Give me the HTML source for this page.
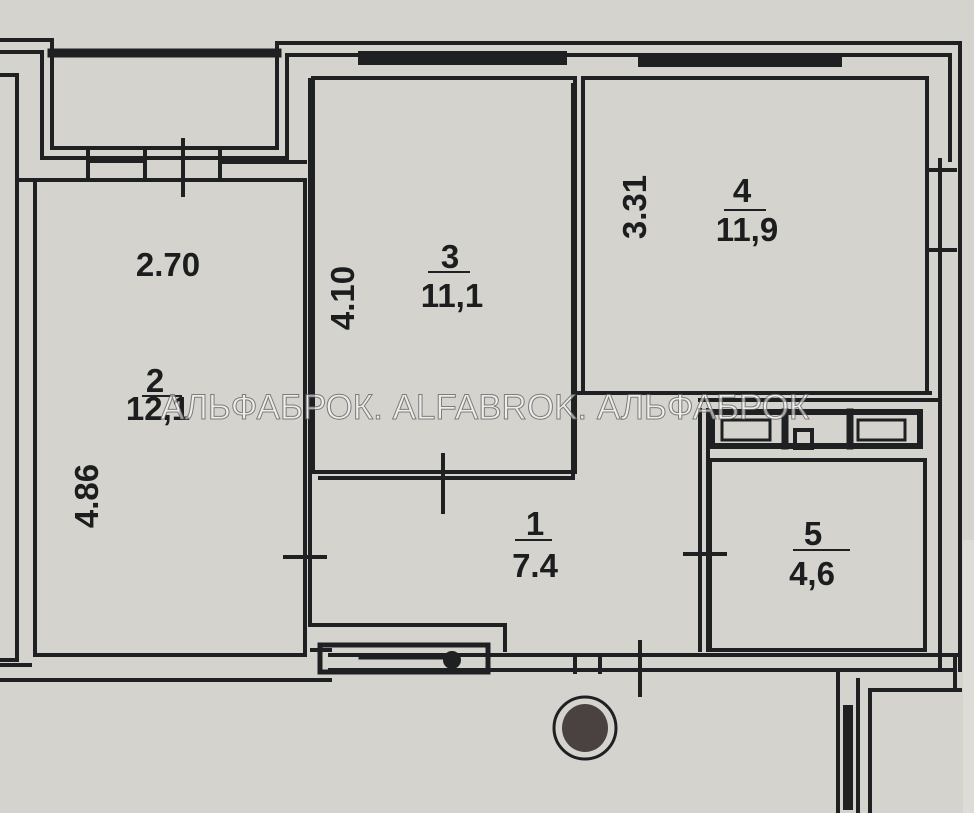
<!DOCTYPE html>
<html><head><meta charset="utf-8"><style>
html,body{margin:0;padding:0;background:#d5d3cd;}
svg{display:block}
text{font-family:"Liberation Sans",Arial,sans-serif;font-weight:bold;fill:#1c1d1f}
</style></head><body>
<svg width="974" height="813" viewBox="0 0 974 813" xmlns="http://www.w3.org/2000/svg">
<rect width="974" height="813" fill="#d5d3cd"/>
<rect x="963" y="540" width="11" height="273" fill="#dedcd7"/>
<g stroke="#1e2022" stroke-width="4" fill="none" stroke-linecap="square">
<path d="M0 40 H52 V148 H277 V43 H960 V670"/>
<path d="M0 52 H42 V158 H287 V55 H950 V160"/>
<path d="M52 53 H277" stroke-width="9"/>
<path d="M365 58 H560 M645 60 H835" stroke-width="14"/>
<path d="M0 75 H17 V660 M0 660 H17"/>
<path d="M20 180 H305 V655 H35 V180"/>
<path d="M88 152 V178 M145 152 V178 M220 152 V178 M88 161 H145" />
<path d="M183 140 V195" />
<path d="M220 162 H305"/>
<path d="M313 78 H575 V472 H313 Z"/>
<path d="M310 80 V625 H505 V650"/>
<path d="M583 78 H927 V393 H583 V80"/>
<path d="M573 85 V478 H320"/>
<path d="M575 393 H583 M600 393 H930"/>
<path d="M700 400 H940 M700 410 V650 M708 410 V650"/>
<path d="M710 460 H925 V650 H710 V460"/>
<path d="M940 160 V670 M930 170 H955 M930 250 H955"/>
<path d="M712 412 H920 V446 H712 Z" stroke-width="6"/>
<path d="M722 420 V440 H770 V420 Z M858 420 V440 H905 V420 Z" stroke-width="3"/>
<path d="M785 412 V446 M850 412 V446" stroke-width="7"/>
<path d="M795 430 H812 V448 H795 Z"/>
<path d="M0 680 H330 M330 655 H960 M330 670 H955 M312 650 H330"/>
<path d="M0 665 H30"/>
<path d="M320 645 H488 V672 H320 Z" stroke-width="5"/>
<path d="M360 658 H450" stroke-width="3"/>
<circle cx="452" cy="660" r="7" fill="#1e2022"/>
<path d="M575 655 V672 M600 655 V672"/>
<path d="M640 642 V695"/>
<path d="M838 672 V813 M858 680 V813 M870 690 V813 M870 690 H960 M955 655 V690"/>
<path d="M848 710 V805" stroke-width="10"/>
<path d="M443 455 V512 M285 557 H325 M685 554 H725"/>
<circle cx="585" cy="728" r="31" stroke-width="3"/>
</g>
<ellipse cx="585" cy="728" rx="23" ry="24" fill="#4a4240"/>
<g font-size="33">
<text x="168" y="276" text-anchor="middle">2.70</text>
<text x="155" y="392" text-anchor="middle">2</text>
<text x="158" y="420" text-anchor="middle">12,1</text>
<text transform="translate(98,496) rotate(-90)" text-anchor="middle">4.86</text>
<text transform="translate(354,298) rotate(-90)" text-anchor="middle">4.10</text>
<text x="450" y="268" text-anchor="middle">3</text>
<text x="452" y="307" text-anchor="middle">11,1</text>
<text transform="translate(646,207) rotate(-90)" text-anchor="middle">3.31</text>
<text x="742" y="202" text-anchor="middle">4</text>
<text x="747" y="241" text-anchor="middle">11,9</text>
<text x="535" y="535" text-anchor="middle">1</text>
<text x="535" y="577" text-anchor="middle">7.4</text>
<text x="813" y="545" text-anchor="middle">5</text>
<text x="812" y="585" text-anchor="middle">4,6</text>
</g>
<g stroke="#1e2022" stroke-width="2">
<line x1="142" y1="396" x2="182" y2="396"/>
<line x1="428" y1="272" x2="470" y2="272"/>
<line x1="724" y1="210" x2="766" y2="210"/>
<line x1="515" y1="540" x2="552" y2="540"/>
<line x1="793" y1="550" x2="850" y2="550"/>
</g>
<text x="485" y="419" font-size="35" text-anchor="middle" style="font-weight:normal;fill:rgba(255,255,255,0.6);stroke:rgba(90,90,90,0.75);stroke-width:1">АЛЬФАБРОК. ALFABROK. АЛЬФАБРОК</text>
</svg>
</body></html>
